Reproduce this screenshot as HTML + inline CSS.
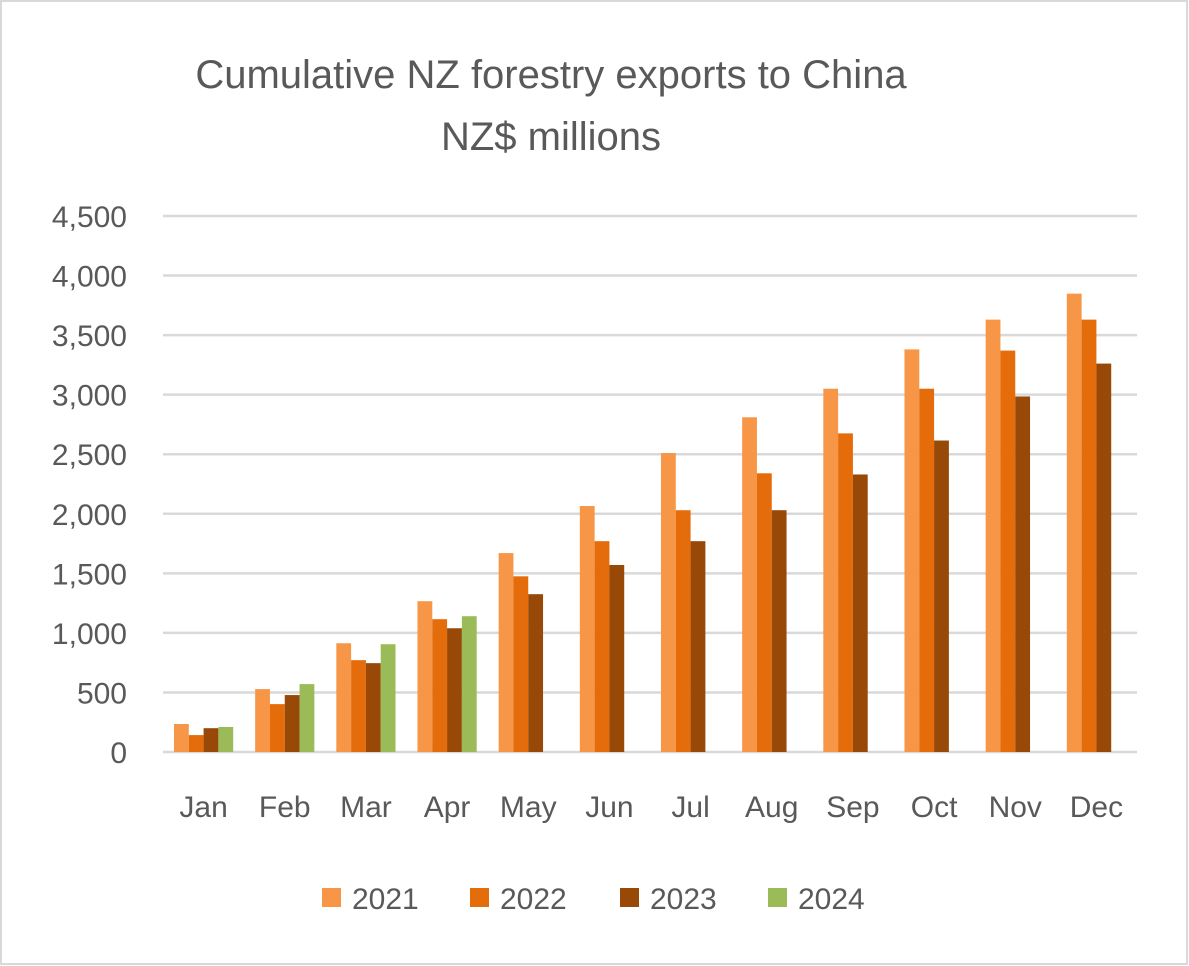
<!DOCTYPE html>
<html><head><meta charset="utf-8"><style>
body{margin:0;background:#fff}
svg{display:block;font-family:"Liberation Sans",sans-serif}
</style></head><body>
<svg id="chart" width="1189" height="966" viewBox="0 0 1189 966">
<rect x="1" y="1" width="1186" height="963" fill="#fff" stroke="#d9d9d9" stroke-width="2"/>
<text x="551" y="88" text-anchor="middle" font-size="40" fill="#595959">Cumulative NZ forestry exports to China</text>
<text x="551" y="150" text-anchor="middle" font-size="40" fill="#595959">NZ$ millions</text>
<g id="grid"></g><g id="bars"></g><g id="ylabels"></g><g id="xlabels"></g><g id="legend"></g>
</svg>
<script>
const categories=["Jan","Feb","Mar","Apr","May","Jun","Jul","Aug","Sep","Oct","Nov","Dec"];
const s2021=[235,528,913,1266,1670,2065,2510,2810,3050,3380,3630,3848];
const s2022=[142,402,771,1115,1475,1770,2030,2340,2675,3050,3370,3630];
const s2023=[200,478,746,1039,1325,1570,1770,2030,2330,2615,2985,3261];
const s2024=[210,570,905,1140,null,null,null,null,null,null,null,null];
const seriesNames=["2021","2022","2023","2024"];
const yTicks=[0,500,1000,1500,2000,2500,3000,3500,4000,4500];
const tickLabels=["0","500","1,000","1,500","2,000","2,500","3,000","3,500","4,000","4,500"];
const colors=["#f79646","#e46c0a","#984807","#9bbb59"];
const NS="http://www.w3.org/2000/svg";
const X0=163,X1=1137,Y0=752,YMAX=4500,YTOP=216;
const slot=(X1-X0)/categories.length,barW=14.8;
function y(v){return Y0-(v/YMAX)*(Y0-YTOP);}
function xc(i){return X0+slot*(i+0.5);}
function mk(tag,attrs,parent){const e=document.createElementNS(NS,tag);for(const k in attrs)e.setAttribute(k,attrs[k]);parent.appendChild(e);return e;}
const grid=document.getElementById('grid'),bars=document.getElementById('bars'),yl=document.getElementById('ylabels'),xl=document.getElementById('xlabels'),lg=document.getElementById('legend');
yTicks.forEach((t,i)=>{
  const l=mk('line',{x1:X0,x2:X1,y1:y(t),y2:y(t),stroke:'#d9d9d9','stroke-width':2.5},grid);
  
  
  const tx=mk('text',{x:127,y:y(t)+11,'text-anchor':'end','font-size':30,fill:'#595959'},yl);
  tx.textContent=tickLabels[i];
  
  
});
const series=[s2021,s2022,s2023,s2024];
categories.forEach((c,i)=>{
  const start=xc(i)-2*barW;
  series.forEach((s,j)=>{
    if(s[i]==null)return;
    const r=mk('rect',{x:start+j*barW,y:y(s[i]),width:barW,height:Y0-y(s[i]),fill:colors[j]},bars);
    
    
  });
  const t=mk('text',{x:xc(i),y:817,'text-anchor':'middle','font-size':30,fill:'#595959'},xl);
  t.textContent=c;
  
  
});
const lx=[322,470,620,768];
seriesNames.forEach((n,j)=>{
  const g=mk('g',{},lg);
  
  
  mk('rect',{x:lx[j],y:888,width:19,height:19,fill:colors[j]},g);
  const t=mk('text',{x:lx[j]+30,y:909,'font-size':30,fill:'#595959'},g);
  t.textContent=n;
});
</script>
</body></html>
